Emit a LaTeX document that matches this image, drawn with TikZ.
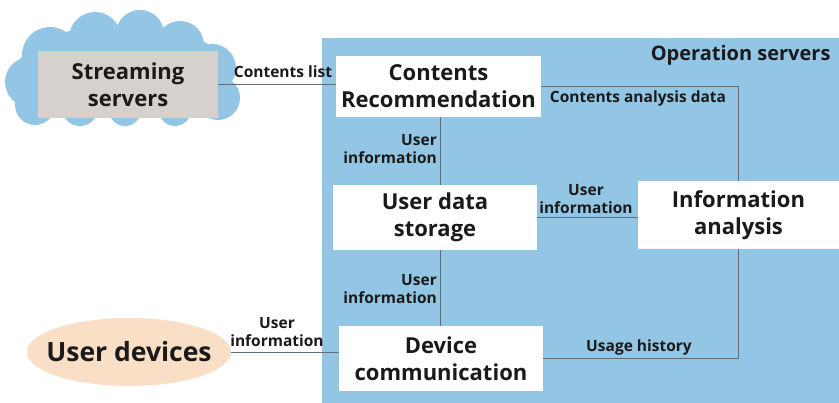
\documentclass[tikz,border=0pt]{standalone}
\usepackage{fontspec}
\setmainfont{Open Sans}
\usetikzlibrary{shapes.geometric}
\definecolor{opblue}{HTML}{93C6E4}
\definecolor{boxgray}{HTML}{D6D1CD}
\definecolor{peach}{HTML}{FADFC7}
\definecolor{linec}{HTML}{5E6E78}
\definecolor{txt}{HTML}{1A1A1A}
\tikzset{
  mainbox/.style={fill=white, draw=none, align=center, inner sep=0pt, text=txt,
    font=\fontsize{22}{27}\selectfont\bfseries},
  lbl/.style={align=center, inner sep=0pt, text=txt, font=\fontsize{15.5}{18.5}\selectfont\bfseries},
  conn/.style={draw=linec, line width=0.9pt},
}
\begin{document}
\begin{tikzpicture}[x=1pt,y=-1pt]
\useasboundingbox (0,0) rectangle (839,403);
\fill[white] (0,0) rectangle (839,403);
% operation servers area
\fill[opblue] (322,38) rectangle (839,403);
\node[anchor=east, text=txt, font=\fontsize{20}{23}\selectfont\bfseries] (optitle) at (834,55) {Operation servers};
% cloud
\fill[opblue]
  (122,70) ellipse [x radius=105, y radius=45]
  (50,55) circle [radius=28]
  (95,38) circle [radius=26]
  (140,34) circle [radius=24]
  (180,45) circle [radius=24]
  (212,68) circle [radius=24]
  (218,98) circle [radius=22]
  (30,82) circle [radius=25]
  (35,105) circle [radius=20]
  (80,108) circle [radius=18]
  (125,110) circle [radius=16]
  (175,110) circle [radius=16];
% nodes
\node[mainbox, fill=boxgray, minimum width=180, minimum height=67] (ss) at (128,84.5) {Streaming\\servers};
\node[mainbox, minimum width=205, minimum height=61] (cr) at (438.5,86.5) {Contents\\Recommendation};
\node[mainbox, minimum width=204, minimum height=65] (uds) at (435,217.5) {User data\\storage};
\node[mainbox, minimum width=201, minimum height=68] (ia) at (738.5,215) {Information\\analysis};
\node[mainbox, minimum width=204, minimum height=65] (dc) at (441,358.5) {Device\\communication};
\node[ellipse, fill=peach, minimum width=204, minimum height=68, inner sep=0pt] (ud) at (129,352) {};
\node[text=txt, inner sep=0pt, font=\fontsize{26.5}{30}\selectfont\bfseries] (udt) at (ud.center) {User devices};
\coordinate (vx) at (440,0);
% connectors
\draw[conn] (ss.east) -- (cr.west |- ss.east);
\draw[conn] (cr.south -| vx) -- (uds.north -| vx);
\draw[conn] (uds.south -| vx) -- (dc.north -| vx);
\draw[conn] (cr.east) -| (ia.north);
\draw[conn] (uds.east) -- (ia.west |- uds.east);
\draw[conn] (dc.east) -| (ia.south);
\draw[conn] (ud.east) -- (dc.west |- ud.east);
% labels
\node[lbl] (l1) at (283,72) {Contents list};
\node[lbl, anchor=east, align=right] (l2) at (437,149) {User\\information};
\node[lbl, anchor=east, align=right] (l3) at (437,289) {User\\information};
\node[lbl] (l4) at (638,98) {Contents analysis data};
\node[lbl] (l5) at (586,199) {User\\information};
\node[lbl] (l6) at (639,347) {Usage history};
\node[lbl] (l7) at (277,332) {User\\information};
\end{tikzpicture}
\end{document}
